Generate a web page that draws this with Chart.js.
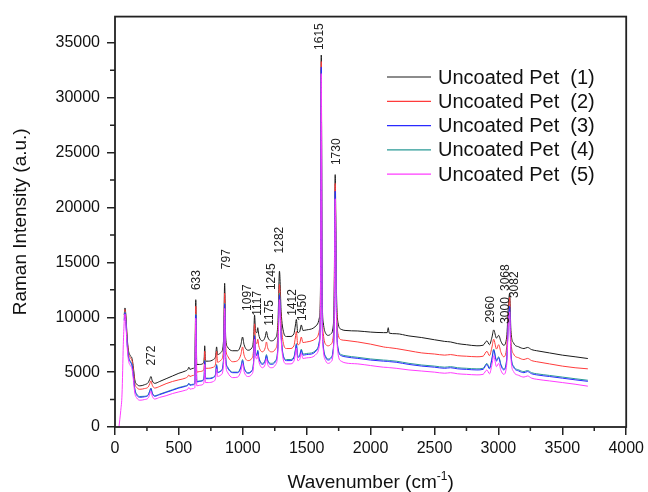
<!DOCTYPE html>
<html>
<head>
<meta charset="utf-8">
<script src="https://cdn.jsdelivr.net/npm/chart.js@4.4.1/dist/chart.umd.min.js"></script>
<style>
  html, body { margin: 0; padding: 0; background: #fff; }
  #wrap { width: 648px; height: 492px; }
</style>
</head>
<body>
<div id="wrap"><canvas id="raman" width="648" height="492"></canvas></div>
<script>
// ── Data ───────────────────────────────────────────
const wavenumber = [
  31, 45, 55, 65, 72, 78, 85, 95, 105, 120, 133, 142, 155, 170, 195, 230, 260, 272, 281, 292,
  310, 350, 400, 450, 500, 550, 570, 578, 586, 610, 625, 632, 640, 660, 690, 698, 702, 708, 730, 770,
  787, 795, 803, 830, 850, 858, 866, 880, 920, 960, 985, 998, 1010, 1040, 1070, 1085, 1092, 1100, 1110, 1117,
  1125, 1154, 1175, 1185, 1195, 1224, 1255, 1275, 1287, 1300, 1320, 1341, 1370, 1400, 1412, 1419, 1430, 1445, 1458, 1470,
  1500, 1550, 1580, 1600, 1608, 1614, 1620, 1630, 1650, 1670, 1690, 1705, 1715, 1723, 1732, 1745, 1770, 1800, 1900, 2000,
  2100, 2130, 2138, 2146, 2200, 2300, 2400, 2500, 2580, 2626, 2680, 2750, 2832, 2880, 2910, 2930, 2950, 2963, 2985, 3002,
  3020, 3041, 3065, 3078, 3088, 3098, 3119, 3160, 3200, 3228, 3260, 3300, 3400, 3500, 3600, 3700
];

const pet1 = [
  null, null, null, null, 10200, 10850, 10200, 8200, 7000, 6500, 6250, 5600, 4300, 3900, 3750, 3850, 4050, 4350, 4600, 4200,
  3980, 4150, 4400, 4650, 4900, 5100, 5250, 5450, 5250, 5350, 5450, 11600, 5700, 5700, 5800, 6300, 7400, 6000, 6000, 6150,
  6450, 7300, 6600, 6800, 8000, 13100, 8200, 7300, 6950, 6950, 7500, 8200, 7500, 7000, 7200, 8200, 10200, 8700, 8600, 9050,
  8400, 7850, 8200, 8700, 8200, 7850, 8100, 9500, 14200, 10500, 8600, 8250, 8250, 8500, 9300, 9800, 8600, 8700, 9300, 8800,
  8850, 9000, 9300, 10000, 13000, 33900, 13000, 9500, 8500, 8350, 8500, 9000, 12000, 23000, 13000, 9500, 8900, 8800, 8750, 8650,
  8600, 8600, 9050, 8550, 8500, 8300, 8150, 7950, 7800, 7750, 7600, 7500, 7400, 7450, 7850, 7500, 8200, 8850, 8100, 8350,
  7800, 7450, 8200, 11000, 12200, 8800, 7650, 7300, 7150, 7250, 7050, 6950, 6750, 6550, 6400, 6240
];

const pet2 = [
  null, null, null, null, 10000, 10700, 10000, 8000, 6800, 6300, 6050, 5400, 4000, 3600, 3440, 3500, 3650, 3950, 4200, 3800,
  3550, 3700, 3950, 4150, 4300, 4450, 4600, 4750, 4600, 4700, 4800, 11000, 5000, 5050, 5150, 5600, 6900, 5350, 5350, 5450,
  5750, 6900, 5900, 6100, 7200, 12200, 7400, 6500, 5950, 6050, 6600, 7300, 6550, 6050, 6250, 7200, 9400, 7800, 7600, 8000,
  7400, 6850, 7200, 7750, 7200, 6850, 7100, 8500, 13000, 9500, 7500, 7150, 7150, 7400, 8200, 8700, 7500, 7600, 8200, 7700,
  7750, 7900, 8150, 8900, 12200, 33300, 12200, 8500, 7500, 7400, 7550, 8050, 11000, 22200, 12000, 8500, 7950, 7900, 7750, 7550,
  7300, 7250, 7250, 7230, 7150, 6950, 6750, 6650, 6550, 6600, 6500, 6450, 6400, 6450, 6900, 6500, 7300, 8000, 7100, 7500,
  6800, 6400, 7300, 10500, 11800, 7900, 6650, 6300, 6150, 6250, 6050, 5950, 5750, 5550, 5400, 5300
];

const pet3 = [
  null, null, null, null, 9700, 10400, 9600, 7600, 6400, 5900, 5600, 4800, 3400, 2900, 2710, 2750, 2900, 3250, 3500, 3050,
  2800, 2950, 3150, 3350, 3550, 3700, 3800, 3950, 3800, 3850, 3950, 10200, 4100, 4150, 4250, 4700, 6000, 4400, 4400, 4500,
  4800, 5600, 4950, 5100, 6200, 11200, 6300, 5400, 4950, 4950, 5400, 6050, 5350, 4900, 5100, 6000, 8300, 6700, 6500, 6900,
  6300, 5700, 6000, 6500, 6000, 5700, 5950, 7300, 12000, 8300, 6300, 6050, 6050, 6300, 7000, 7500, 6350, 6450, 7000, 6550,
  6600, 6700, 7000, 7800, 11300, 32800, 11300, 7300, 6300, 6100, 6250, 6800, 9800, 21500, 10800, 7100, 6500, 6400, 6250, 6100,
  6000, 5980, 5970, 5960, 5900, 5700, 5550, 5450, 5350, 5400, 5300, 5250, 5200, 5250, 5700, 5300, 6200, 7000, 6000, 6300,
  5600, 5200, 6100, 9700, 11000, 6700, 5450, 5100, 4950, 5050, 4850, 4750, 4600, 4450, 4300, 4160
];

const pet4 = [
  null, null, null, null, 9800, 10500, 9700, 7700, 6500, 6000, 5700, 4900, 3500, 3000, 2780, 2800, 2950, 3300, 3550, 3100,
  2850, 3000, 3200, 3400, 3600, 3750, 3850, 4000, 3850, 3900, 4000, 10300, 4150, 4200, 4300, 4750, 6100, 4450, 4450, 4550,
  4850, 5700, 5000, 5150, 6300, 11300, 6400, 5500, 5000, 5000, 5500, 6150, 5450, 4950, 5150, 6100, 8400, 6800, 6600, 7000,
  6400, 5800, 6100, 6600, 6100, 5800, 6050, 7400, 12200, 8400, 6400, 6150, 6150, 6400, 7100, 7600, 6450, 6550, 7100, 6650,
  6700, 6800, 7100, 7900, 11400, 32600, 11400, 7400, 6400, 6200, 6350, 6900, 9900, 21400, 10900, 7200, 6600, 6500, 6350, 6200,
  6100, 6080, 6070, 6060, 6000, 5800, 5650, 5550, 5450, 5500, 5400, 5350, 5300, 5350, 5800, 5400, 6300, 7100, 6100, 6400,
  5700, 5300, 6200, 9600, 10900, 6800, 5550, 5200, 5050, 5150, 4950, 4850, 4700, 4550, 4400, 4260
];

const pet5 = [
  0, 1500, 3000, 7500, 9600, 10300, 9400, 7300, 6100, 5600, 5300, 4500, 3100, 2650, 2440, 2500, 2650, 3000, 3250, 2800,
  2550, 2700, 2850, 3050, 3200, 3350, 3450, 3600, 3450, 3500, 3600, 9900, 3750, 3800, 3900, 4350, 5700, 4050, 4050, 4150,
  4450, 5300, 4600, 4750, 5800, 10800, 5900, 5000, 4500, 4550, 5100, 5750, 5050, 4600, 4800, 5700, 8000, 6400, 6200, 6600,
  6000, 5400, 5700, 6200, 5700, 5400, 5650, 7000, 11600, 8000, 6000, 5750, 5750, 6000, 6700, 7200, 6050, 6150, 6700, 6250,
  6300, 6400, 6700, 7500, 11000, 32200, 11000, 7000, 6000, 5800, 5950, 6500, 9500, 20800, 10500, 6700, 6000, 5850, 5750, 5600,
  5450, 5430, 5420, 5410, 5350, 5200, 5100, 5000, 4900, 4950, 4850, 4800, 4750, 4800, 5200, 4850, 5700, 6500, 5500, 5800,
  5150, 4800, 5700, 9200, 10500, 6300, 5050, 4700, 4550, 4650, 4450, 4350, 4200, 4050, 3900, 3720
];

const seriesNames = ['Uncoated Pet  (1)', 'Uncoated Pet  (2)', 'Uncoated Pet  (3)', 'Uncoated Pet  (4)', 'Uncoated Pet  (5)'];
const seriesColors = ['#1a1a1a', '#ff3b3b', '#2a2aff', '#2a9a96', '#ff3cff'];

// peak annotations: label, wavenumber, intensity where the label text starts
const peakLabels = ['272', '633', '797', '1097', '1117', '1175', '1245', '1282', '1412', '1450', '1615', '1730', '2960', '3000', '3068', '3082'];
const peakLabelX = [288, 639, 873, 1037, 1115, 1209, 1224, 1287, 1388, 1466, 1598, 1731, 2940, 3057, 3057, 3127];
const peakLabelY = [5600, 12480, 14380, 10580, 10130, 9220, 12480, 15820, 10130, 9670, 34360, 23870, 9490, 9400, 12390, 11750];

const xTicks = [0, 500, 1000, 1500, 2000, 2500, 3000, 3500, 4000];
const yTicks = [0, 5000, 10000, 15000, 20000, 25000, 30000, 35000];

// ── Style ──────────────────────────────────────────
const FONT = '"Liberation Sans", Arial, sans-serif';
const AXIS = '#222';
Chart.defaults.font.family = FONT;
Chart.defaults.color = '#111';

// ── Plugins ────────────────────────────────────────
const frameAndMinorTicks = {
  id: 'frameAndMinorTicks',
  afterDraw(chart) {
    const { ctx, chartArea: a, scales: { x, y } } = chart;
    ctx.save();
    ctx.strokeStyle = AXIS;
    ctx.lineWidth = 1.5;
    ctx.beginPath();
    for (let i = 0; i < xTicks.length - 1; i++) {
      const px = x.getPixelForValue((xTicks[i] + xTicks[i + 1]) / 2);
      ctx.moveTo(px, a.bottom);
      ctx.lineTo(px, a.bottom + 4);
    }
    for (let i = 0; i < yTicks.length; i++) {
      const py = y.getPixelForValue(yTicks[i] + 2500);
      if (py < a.top) continue;
      ctx.moveTo(a.left, py);
      ctx.lineTo(a.left - 5, py);
    }
    ctx.stroke();
    ctx.lineWidth = 1.8;
    ctx.strokeRect(a.left, a.top, a.right - a.left, a.bottom - a.top);
    ctx.restore();
  }
};

const peakText = {
  id: 'peakText',
  afterDatasetsDraw(chart) {
    const { ctx, scales: { x, y } } = chart;
    ctx.save();
    ctx.font = '12px ' + FONT;
    ctx.fillStyle = '#222';
    ctx.textAlign = 'left';
    ctx.textBaseline = 'middle';
    peakLabels.forEach((t, i) => {
      ctx.save();
      ctx.translate(x.getPixelForValue(peakLabelX[i]), y.getPixelForValue(peakLabelY[i]));
      ctx.rotate(-Math.PI / 2);
      ctx.fillText(t, 0, 0);
      ctx.restore();
    });
    ctx.restore();
  }
};

const sampleLegend = {
  id: 'sampleLegend',
  afterDraw(chart) {
    const ctx = chart.ctx;
    ctx.save();
    ctx.font = '20px ' + FONT;
    ctx.textBaseline = 'middle';
    ctx.textAlign = 'left';
    seriesNames.forEach((name, i) => {
      const ly = 77 + i * 24.3;
      ctx.strokeStyle = seriesColors[i];
      ctx.lineWidth = 1.2;
      ctx.beginPath();
      ctx.moveTo(387, ly);
      ctx.lineTo(431, ly);
      ctx.stroke();
      ctx.fillStyle = '#111';
      ctx.fillText(name, 438, ly + 1);
    });
    ctx.restore();
  }
};

const xTitle = {
  id: 'xTitle',
  afterDraw(chart) {
    const { ctx, chartArea: a } = chart;
    const big = '19px ' + FONT, small = '12px ' + FONT;
    const p1 = 'Wavenumber (cm', p2 = '-1', p3 = ')';
    ctx.save();
    ctx.fillStyle = '#111';
    ctx.textBaseline = 'alphabetic';
    ctx.font = big;
    const w1 = ctx.measureText(p1).width, w3 = ctx.measureText(p3).width;
    ctx.font = small;
    const w2 = ctx.measureText(p2).width;
    let cx = (a.left + a.right) / 2 - (w1 + w2 + w3) / 2;
    const base = 488;
    ctx.font = big; ctx.fillText(p1, cx, base); cx += w1;
    ctx.font = small; ctx.fillText(p2, cx, base - 8); cx += w2;
    ctx.font = big; ctx.fillText(p3, cx, base);
    ctx.restore();
  }
};

// ── Chart ──────────────────────────────────────────
const order = [5, 4, 2, 3, 1];
const allSeries = [pet1, pet2, pet3, pet4, pet5];
const plainNumber = v => String(v);

new Chart(document.getElementById('raman'), {
  type: 'line',
  data: {
    datasets: allSeries.map((s, i) => ({
      label: seriesNames[i],
      data: wavenumber.map((w, j) => ({ x: w, y: s[j] })),
      borderColor: seriesColors[i],
      borderWidth: 1,
      pointRadius: 0,
      cubicInterpolationMode: 'monotone',
      spanGaps: false,
      order: order[i],
    })),
  },
  options: {
    responsive: false,
    animation: false,
    devicePixelRatio: 1,
    layout: { padding: { top: 13, right: 20, left: 0, bottom: 0 } },
    plugins: { legend: { display: false }, tooltip: { enabled: false } },
    scales: {
      x: {
        type: 'linear',
        min: 0,
        max: 4000,
        afterFit(scale) { scale.height = 65; },
        afterBuildTicks(scale) { scale.ticks = xTicks.map(v => ({ value: v })); },
        ticks: { font: { size: 16 }, color: '#111', padding: 4, maxRotation: 0, autoSkip: false, callback: plainNumber },
        grid: { drawOnChartArea: false, drawTicks: true, tickLength: 8, color: AXIS, lineWidth: 1.5 },
        border: { display: false },
      },
      y: {
        type: 'linear',
        min: 0,
        max: 37400,
        afterFit(scale) { scale.width = 115; },
        afterBuildTicks(scale) { scale.ticks = yTicks.map(v => ({ value: v })); },
        ticks: { font: { size: 16 }, color: '#111', padding: 7, callback: plainNumber },
        grid: { drawOnChartArea: false, drawTicks: true, tickLength: 8, color: AXIS, lineWidth: 1.5 },
        border: { display: false },
        title: { display: true, text: 'Raman Intensity (a.u.)', font: { size: 19 }, color: '#111', padding: { top: 9, bottom: 0 } },
      },
    },
  },
  plugins: [frameAndMinorTicks, peakText, sampleLegend, xTitle],
});
</script>
</body>
</html>
